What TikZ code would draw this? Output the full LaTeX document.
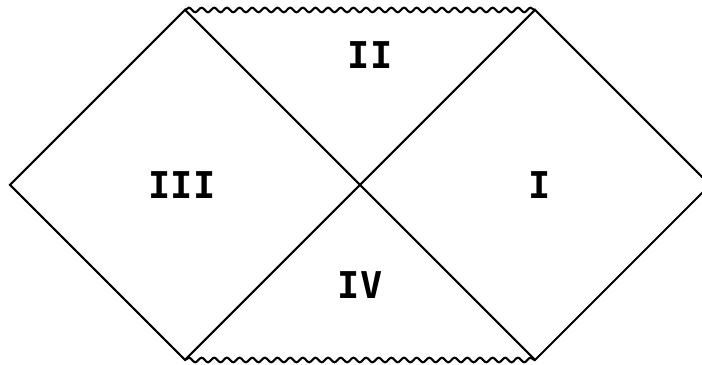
\documentclass[tikz,border=0pt]{standalone}
\usepackage{fontspec}
\newfontfamily\regionfont{DejaVu Sans Mono}
\usetikzlibrary{decorations.pathmorphing}

\begin{document}
\begin{tikzpicture}[line width=0.6pt,
    singular/.style={decorate,decoration={snake,amplitude=0.65pt,segment length=3.6pt}},
    region/.style={font=\regionfont\bfseries\fontsize{10.5}{12}\selectfont}]
  \useasboundingbox (-3.6,-1.80) rectangle (3.42,1.85);
  %% corners of the diagram
  \coordinate (L) at (-3.5,0);
  \coordinate (R) at (3.5,0);
  \coordinate (TL) at (-1.75,1.75);
  \coordinate (TR) at (1.75,1.75);
  \coordinate (BL) at (-1.75,-1.75);
  \coordinate (BR) at (1.75,-1.75);
  %% null boundaries and horizons
  \draw (L) -- (TL) -- (BR) -- (R) -- (TR) -- (BL) -- cycle;
  %% singularities
  \draw[singular] (TL) -- (TR);
  \draw[singular] (BL) -- (BR);
  %% regions
  \node[region] (I) at (1.80,0) {I};
  \node[region] (II) at (0.10,1.30) {II};
  \node[region] (III) at (-1.78,0) {III};
  \node[region] (IV) at (0,-1.00) {IV};
\end{tikzpicture}
\end{document}
